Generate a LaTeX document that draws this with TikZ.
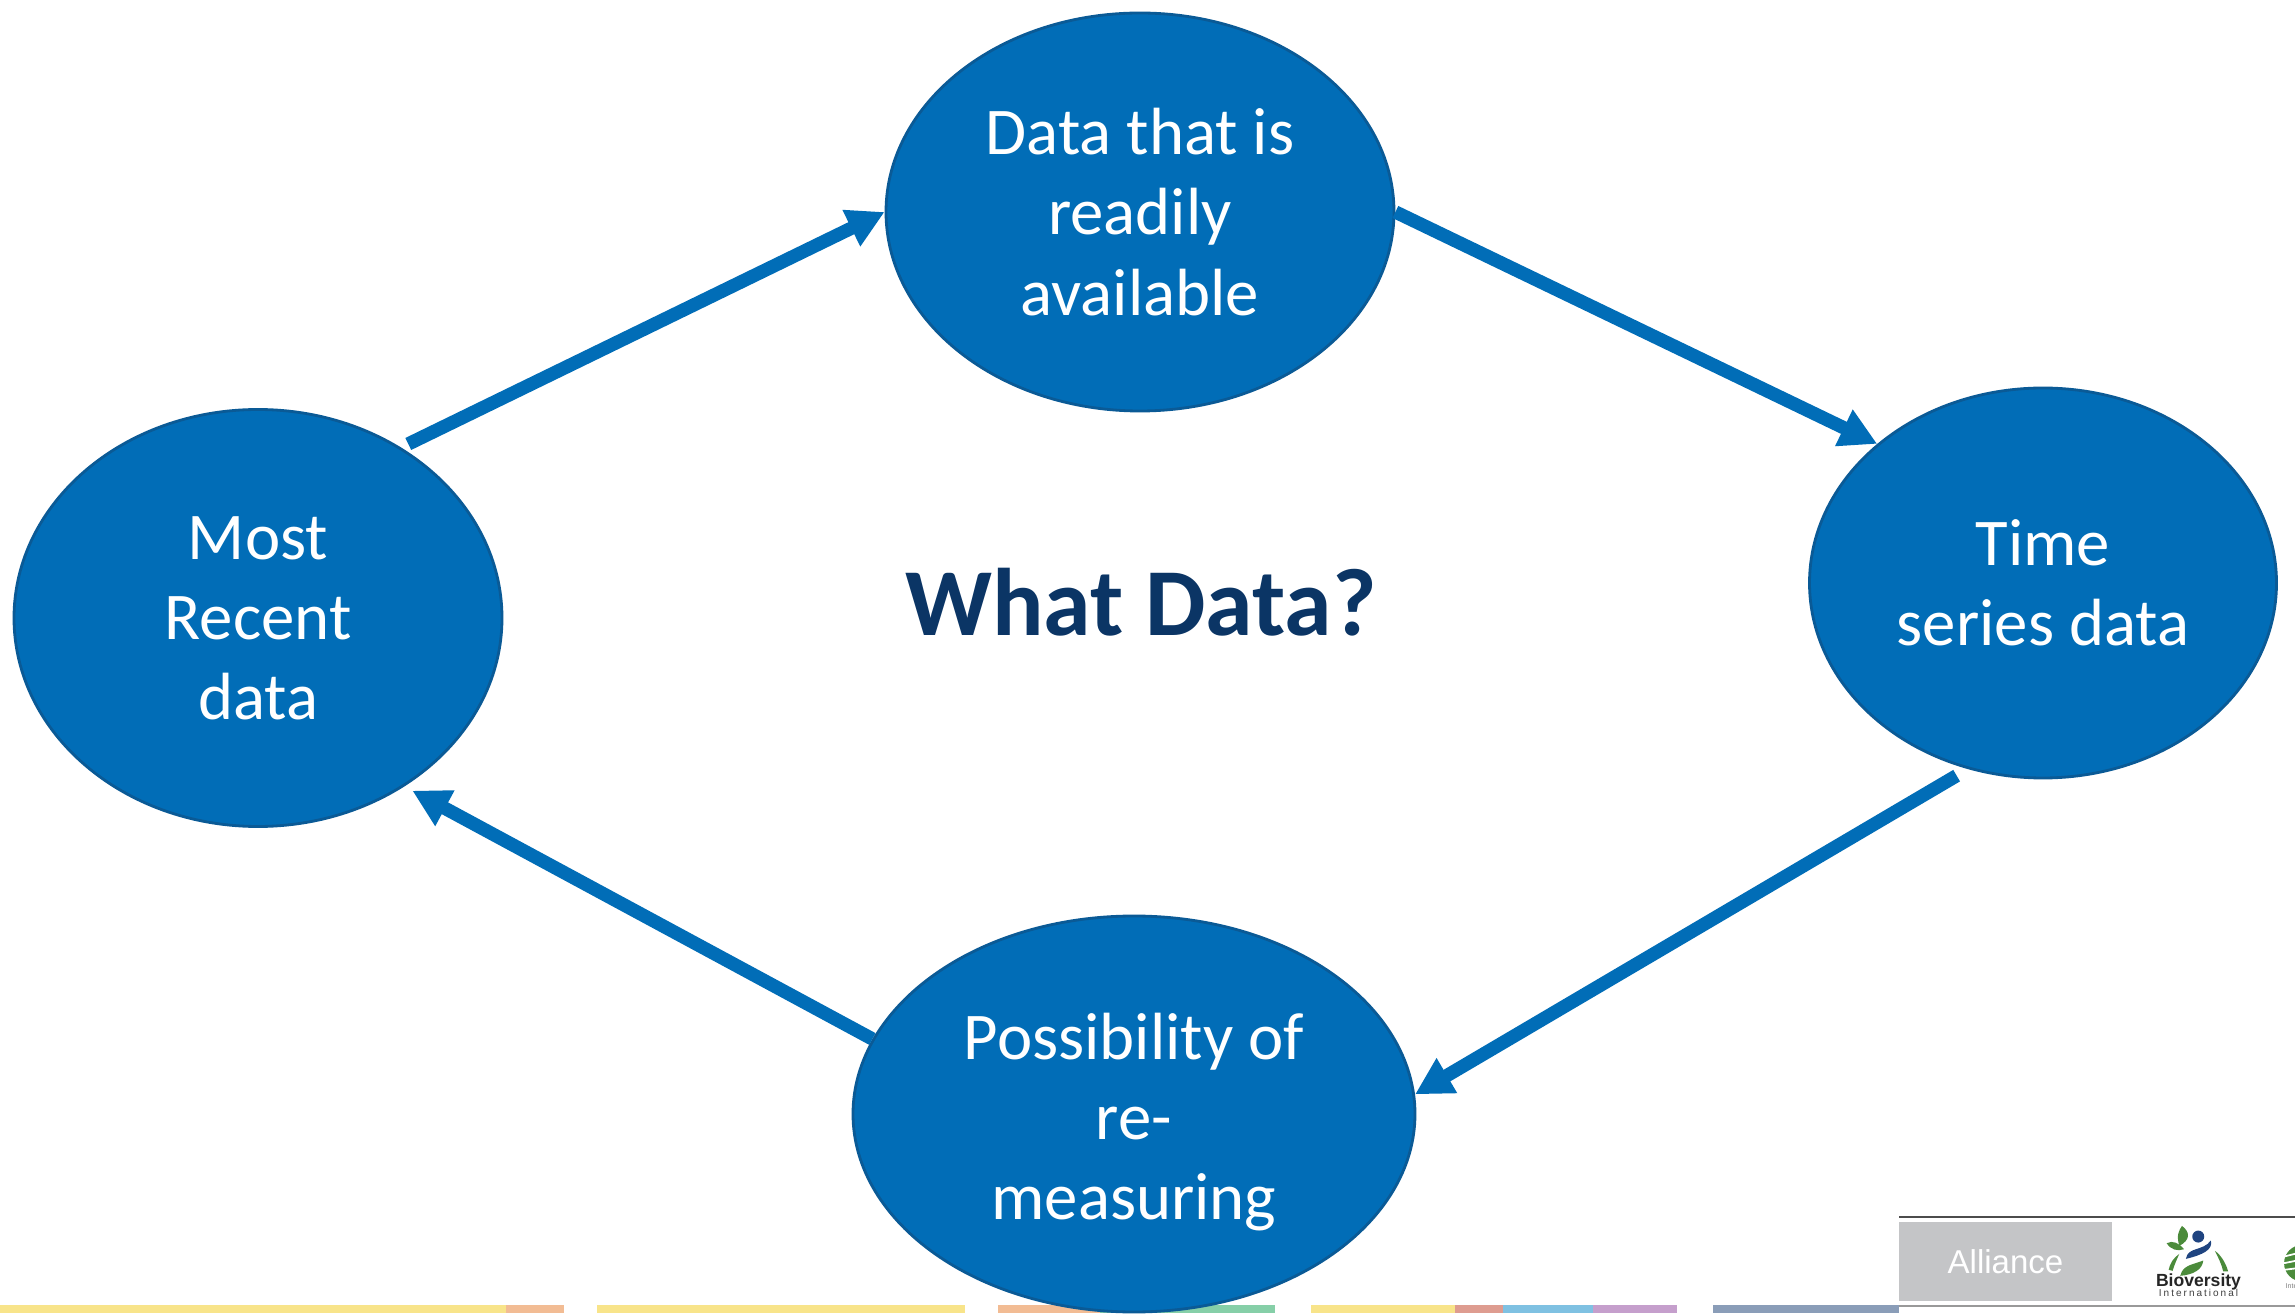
\documentclass[tikz,border=0pt]{standalone}
\usepackage{fontspec}
\setmainfont{Carlito}
\newfontfamily\logofont{Liberation Sans}
\usetikzlibrary{arrows.meta,positioning,shapes.geometric}
\definecolor{bubblefill}{HTML}{016DB7}
\definecolor{bubbleline}{HTML}{0A5A96}
\definecolor{titleblue}{HTML}{0B3565}
\definecolor{stripyellow}{HTML}{F8E48A}
\definecolor{striporange}{HTML}{F2BC94}
\definecolor{stripgreen}{HTML}{86CFA8}
\definecolor{stripred}{HTML}{DE9C90}
\definecolor{stripblue}{HTML}{7FC1E2}
\definecolor{strippurple}{HTML}{C59FCC}
\definecolor{stripslate}{HTML}{8A9DB8}
\definecolor{logogrey}{HTML}{C4C5C7}
\definecolor{logogreen}{HTML}{4B8B3B}
\definecolor{logoblue}{HTML}{1F4480}
\tikzset{
	bubble/.style={ellipse, draw=bubbleline, fill=bubblefill, line width=0.8pt, inner sep=0pt, align=center, text=white, font=\fontsize{19}{22.8}\selectfont},
	flow/.style={draw=bubblefill, line width=3.8pt, -{Triangle[length=0.37cm,width=0.38cm]}}
}
\begin{document}
\begin{tikzpicture}
		\clip (0,0) rectangle (22.95,13.13);
		\fill [white] (0,0) rectangle (22.95,13.13);
		\fill [stripyellow] (0,0) rectangle (5.06,0.08);
		\fill [striporange] (5.06,0) rectangle (5.64,0.08);
		\fill [stripyellow] (5.97,0) rectangle (9.65,0.08);
		\fill [striporange] (9.98,0) rectangle (11.00,0.08);
		\fill [stripgreen] (11.00,0) rectangle (12.75,0.08);
		\fill [stripyellow] (13.11,0) rectangle (14.55,0.08);
		\fill [stripred] (14.55,0) rectangle (15.03,0.08);
		\fill [stripblue] (15.03,0) rectangle (15.93,0.08);
		\fill [strippurple] (15.93,0) rectangle (16.77,0.08);
		\fill [stripslate] (17.13,0) rectangle (18.99,0.08);
		\node (data) at (11.40,11.01) [bubble, minimum width=5.08cm, minimum height=3.98cm] {Data that is \\ readily \\ available};
		\node (recent) at (2.58,6.95) [bubble, minimum width=4.88cm, minimum height=4.17cm] {Most \\ Recent \\ data};
		\node (series) at (20.43,7.30) [bubble, minimum width=4.67cm, minimum height=3.90cm] {Time \\ series data};
		\node (measure) at (11.34,1.99) [bubble, minimum width=5.62cm, minimum height=3.96cm] {\rule{0pt}{0.62cm}Possibility of \\ re- \\ measuring};
		\node (title) at (11.41,7.11) [text=titleblue, font=\fontsize{27.3}{32}\selectfont\bfseries] {What Data?};
		\path [flow, shorten <=0.08cm] (recent.50) -- (data.west);
		\path [flow] (data.east) -- (series.140);
		\path [flow, shorten <=0.13cm] (series.248.5) -- (measure.4);
		\path [flow, shorten >=0.09cm] (measure.164) -- (recent.-49);
		\draw [line width=0.5pt, black!70] (18.99,13.13-12.17) -- (22.95,13.13-12.17);
		\draw [line width=0.8pt, black!40] (18.99,13.13-13.06) -- (22.95,13.13-13.06);
		\node (alliance) at (20.055,13.13-12.615) [fill=logogrey, text=white, minimum width=2.13cm, minimum height=0.79cm, inner sep=0pt, font=\logofont\fontsize{9.4}{11}\selectfont] {Alliance};
		\begin{scope}[shift={(18.5,1.23)}, x=0.003333cm, y=-0.003333cm]
			\fill [logogreen] (990,168) .. controls (980,135) and (990,120) .. (998,108) .. controls (1022,125) and (1025,150) .. (990,168);
			\fill [logogreen] (952,160) .. controls (970,150) and (990,160) .. (1004,178) .. controls (985,185) and (965,180) .. (952,160);
			\fill [logoblue] (1047,140) circle (18);
			\fill [logoblue] (1010,207) .. controls (1015,170) and (1060,185) .. (1085,152) .. controls (1092,180) and (1060,195) .. (1010,207);
			\fill [logogreen] (993,258) .. controls (1000,225) and (1030,225) .. (1062,212) .. controls (1060,240) and (1030,255) .. (993,258);
			\fill [logogreen] (958,240) .. controls (962,220) and (972,205) .. (990,192) .. controls (982,210) and (975,225) .. (970,243) -- cycle;
			\fill [logogreen] (1097,183) .. controls (1115,195) and (1130,220) .. (1137,245) -- (1122,245) .. controls (1118,225) and (1108,205) .. (1097,183);
			\fill [logogreen] (1360,220) circle (55);
			\draw [white, line width=0.5pt] (1305,200) -- (1345,190);
			\draw [white, line width=0.5pt] (1305,220) -- (1345,212);
			\draw [white, line width=0.5pt] (1305,240) -- (1345,235);
		\end{scope}
		\node (bioversity) at (21.985,13.13-12.82) [inner sep=0pt, text=black!85, font=\logofont\fontsize{5}{6}\selectfont\bfseries] {Bioversity};
		\node (international) at (21.985,13.13-12.93) [inner sep=0pt, text=black!75, font=\logofont\fontsize{2.85}{4}\selectfont\addfontfeatures{LetterSpace=20}] {International};
		\node (partner) at (22.85,13.13-12.86) [inner sep=0pt, anchor=west, text=black!50, font=\logofont\fontsize{2}{3}\selectfont] {Inter};
	\end{tikzpicture}
\end{document}
